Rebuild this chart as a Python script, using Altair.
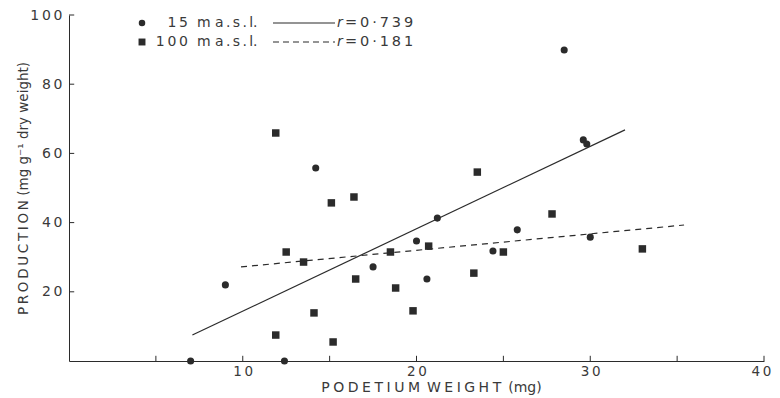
import altair as alt
import pandas as pd

# 15 m a.s.l. (circles)
x15 = [7.0, 9.0, 12.4, 14.2, 28.5, 29.6, 29.8, 21.2, 25.8, 30.0, 20.0, 17.5, 24.4, 20.6]
y15 = [0.0, 22.0, 0.0, 55.8, 89.9, 63.9, 62.7, 41.3, 37.9, 35.8, 34.7, 27.2, 31.8, 23.7]
# 100 m a.s.l. (squares)
x100 = [11.9, 15.1, 16.4, 12.5, 13.5, 16.5, 14.1, 11.9, 15.2, 23.5, 27.8, 33.0, 20.7, 18.5, 25.0, 23.3, 18.8, 19.8]
y100 = [65.9, 45.7, 47.4, 31.5, 28.6, 23.7, 13.9, 7.5, 5.5, 54.6, 42.5, 32.4, 33.2, 31.5, 31.5, 25.4, 21.1, 14.5]
# regression lines (end points)
fit15_x = [7.1, 32.0]
fit15_y = [7.5, 66.8]
fit100_x = [9.9, 35.4]
fit100_y = [27.2, 39.3]
# ticks
xticks = [5, 10, 15, 20, 25, 30, 35, 40]
xlabels = [10, 20, 30, 40]
yticks = [20, 40, 60, 80, 100]

INK = "#2b2b2b"
TXT = "#3a3a3a"
FONT = "DejaVu Sans"
TS = "\u2009"   # thin space, imitates the wide letter spacing
FS = "\u2005"   # four-per-em space
SS = "\u2006"   # six-per-em space
EN = "\u2002"   # en space

W, H = 695, 346
xs = alt.Scale(domain=[0, 40], nice=False, zero=True)
ys = alt.Scale(domain=[0, 100], nice=False, zero=True)

d15 = pd.DataFrame({"x": x15, "y": y15})
d100 = pd.DataFrame({"x": x100, "y": y100})

spaced = "join(split(datum.label, ''), '" + TS + "')"
xtitle = FS.join("PODETIUM") + EN + FS.join("WEIGHT") + EN + "(mg)"
ytitle = TS.join("PRODUCTION") + " (mg g\u207b\u00b9 dry weight)"

X = alt.X("x:Q", scale=xs, axis=alt.Axis(
    values=xlabels, title=xtitle, ticks=False, grid=False,
    domainColor=INK, labelColor=TXT, labelFont=FONT, labelFontSize=13.5,
    labelPadding=3, labelExpr=spaced, labelFlush=False,
    labelOffset=alt.condition("datum.value == 40", alt.value(-3), alt.value(0)),
    titleFont=FONT, titleFontSize=14, titleFontWeight="normal",
    titleColor=TXT, titleX=362, titleY=30, titleBaseline="alphabetic", titleAlign="center"))
Y = alt.Y("y:Q", scale=ys, axis=alt.Axis(
    values=yticks, title=ytitle, ticks=False, grid=False,
    domainColor=INK, labelColor=TXT, labelFont=FONT, labelFontSize=14,
    labelPadding=7, labelExpr=spaced, labelFlush=False,
    titleFont=FONT, titleFontSize=13.5, titleFontWeight="normal",
    titleColor=TXT, titleX=-46, titleY=173, titleAngle=270, titleAlign="center",
    titleBaseline="middle"))

pts15 = alt.Chart(d15).mark_point(shape="circle", filled=True, size=50, color=INK, opacity=1).encode(x=X, y=Y)
pts100 = alt.Chart(d100).mark_point(shape="square", filled=True, size=56, color=INK, opacity=1).encode(
    x=alt.X("x:Q", scale=xs), y=alt.Y("y:Q", scale=ys))

l15 = alt.Chart(pd.DataFrame({"x": fit15_x, "y": fit15_y})).mark_line(color=INK, strokeWidth=1.2).encode(
    x=alt.X("x:Q", scale=xs), y=alt.Y("y:Q", scale=ys))
l100 = alt.Chart(pd.DataFrame({"x": fit100_x, "y": fit100_y})).mark_line(color=INK, strokeWidth=1.2, strokeDash=[6, 5]).encode(
    x=alt.X("x:Q", scale=xs), y=alt.Y("y:Q", scale=ys))

# inward tick marks
xt = alt.Chart(pd.DataFrame({"x": xticks, "y": [0] * len(xticks), "y2": [1.5] * len(xticks)})).mark_rule(color=INK, strokeWidth=1).encode(
    x=alt.X("x:Q", scale=xs), y=alt.Y("y:Q", scale=ys), y2="y2:Q")
yt = alt.Chart(pd.DataFrame({"y": yticks, "x": [0] * len(yticks), "x2": [0.3] * len(yticks)})).mark_rule(color=INK, strokeWidth=1).encode(
    y=alt.Y("y:Q", scale=ys), x=alt.X("x:Q", scale=xs), x2="x2:Q")

# legend (annotation in pixel space)
leg_rows = [8, 27]
one = pd.DataFrame({"a": [0]})
lg = []
lg.append(alt.Chart(one).mark_point(shape="circle", filled=True, size=42, color=INK, opacity=1).encode(
    x=alt.value(73), y=alt.value(leg_rows[0])))
lg.append(alt.Chart(one).mark_point(shape="square", filled=True, size=48, color=INK, opacity=1).encode(
    x=alt.value(73), y=alt.value(leg_rows[1])))
nums = ["15", "100"]
unit = "m a" + SS + "." + SS + "s" + SS + "." + SS + "l."
rv = ["=0\u00b7739", "=0\u00b7181"]
for i, r in enumerate(leg_rows):
    lg.append(alt.Chart(one).mark_text(text=TS.join(nums[i]), align="right", baseline="middle", font=FONT, fontSize=14, color=TXT).encode(
        x=alt.value(119), y=alt.value(r)))
    lg.append(alt.Chart(one).mark_text(text=unit, align="left", baseline="middle", font=FONT, fontSize=14, color=TXT).encode(
        x=alt.value(128), y=alt.value(r)))
    lg.append(alt.Chart(one).mark_text(text="r", align="left", baseline="middle", font=FONT, fontSize=14, fontStyle="italic", color=TXT).encode(
        x=alt.value(268), y=alt.value(r)))
    lg.append(alt.Chart(one).mark_text(text=TS.join(rv[i]), align="left", baseline="middle", font=FONT, fontSize=14.5, color=TXT).encode(
        x=alt.value(276), y=alt.value(r)))
lg.append(alt.Chart(one).mark_rule(color=INK, strokeWidth=1.2).encode(
    x=alt.value(204), x2=alt.value(266), y=alt.value(leg_rows[0])))
lg.append(alt.Chart(one).mark_rule(color=INK, strokeWidth=1.2, strokeDash=[6, 4]).encode(
    x=alt.value(204), x2=alt.value(266), y=alt.value(leg_rows[1])))

chart = alt.layer(pts15, pts100, l15, l100, xt, yt, *lg).properties(
    width=W, height=H,
    autosize=alt.AutoSizeParams(type="none"),
    padding={"left": 61, "top": 7, "right": 8, "bottom": 37},
).configure_view(stroke=None).configure_axis(domainWidth=1)

chart.save("out.html", embed_options={"renderer": "svg", "actions": False})
